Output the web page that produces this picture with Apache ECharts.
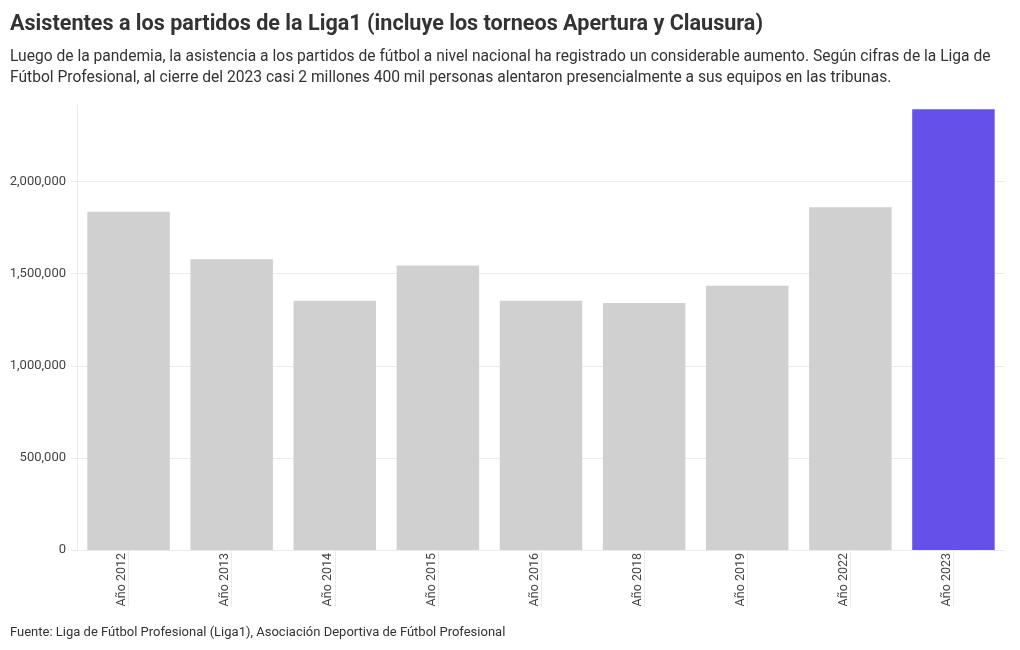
<!DOCTYPE html>
<html>
<head>
<meta charset="utf-8">
<script src="https://cdn.jsdelivr.net/npm/echarts@6/dist/echarts.min.js"></script>
<style>
  html, body { margin: 0; padding: 0; background: #fff; }
  #chart { width: 1020px; height: 650px; }
</style>
</head>
<body>
<div id="chart"></div>
<script>
// datos
const years = ['Año 2012', 'Año 2013', 'Año 2014', 'Año 2015', 'Año 2016', 'Año 2018', 'Año 2019', 'Año 2022', 'Año 2023'];
const attendance = [1837000, 1579000, 1353000, 1544000, 1353000, 1341000, 1434000, 1861000, 2393000];
const yTicks = [0, 500000, 1000000, 1500000, 2000000];

const FONT = 'Roboto';
const GRAY = '#d0d0d0';
const PURPLE = '#6551e9';
const LINE = '#ebebeb';

const option = {
  textStyle: { fontFamily: FONT },
  title: [
    {
      text: 'Asistentes a los partidos de la Liga1 (incluye los torneos Apertura y Clausura)',
      left: 10,
      top: 14,
      padding: 0,
      textStyle: { fontFamily: FONT, fontSize: 21.6, fontWeight: 'bold', color: '#333333' }
    },
    {
      text: 'Luego de la pandemia, la asistencia a los partidos de fútbol a nivel nacional ha registrado un considerable aumento. Según cifras de la Liga de\nFútbol Profesional, al cierre del 2023 casi 2 millones 400 mil personas alentaron presencialmente a sus equipos en las tribunas.',
      left: 10,
      top: 47,
      padding: 0,
      textStyle: { fontFamily: FONT, fontSize: 15.6, fontWeight: 'normal', color: '#333333', lineHeight: 21 }
    },
    {
      text: 'Fuente: Liga de Fútbol Profesional (Liga1), Asociación Deportiva de Fútbol Profesional',
      left: 10,
      top: 626,
      padding: 0,
      textStyle: { fontFamily: FONT, fontSize: 13, fontWeight: 'normal', color: '#333333' }
    }
  ],
  grid: {
    left: 77,
    right: 15,
    top: 105,
    bottom: 100,
    containLabel: false
  },
  xAxis: {
    type: 'category',
    data: years,
    axisLine: { show: false },
    axisTick: {
      show: true,
      alignWithLabel: true,
      length: 57,
      lineStyle: { color: LINE }
    },
    axisLabel: {
      rotate: 90,
      margin: 3,
      verticalAlign: 'bottom',
      fontSize: 12.5,
      color: '#444444',
      interval: 0
    }
  },
  yAxis: {
    type: 'value',
    min: 0,
    max: 2416000,
    interval: 500000,
    axisLine: { show: true, lineStyle: { color: LINE } },
    axisTick: { show: true, length: 6, lineStyle: { color: LINE } },
    axisLabel: {
      margin: 11,
      fontSize: 13,
      color: '#444444',
      showMaxLabel: false,
      formatter: (v) => yTicks.includes(v) ? v.toLocaleString('en-US') : ''
    },
    splitLine: { show: true, showMaxLine: false, lineStyle: { color: LINE } }
  },
  series: [
    {
      type: 'bar',
      barCategoryGap: '20%',
      data: attendance.map((v, i) => ({
        value: v,
        itemStyle: { color: i === attendance.length - 1 ? PURPLE : GRAY }
      }))
    }
  ]
};

const initEcharts = () => {
  const myChart = echarts.init(document.getElementById('chart'), null, { renderer: 'canvas' });
  myChart.setOption(option);
};
initEcharts();
</script>
</body>
</html>
